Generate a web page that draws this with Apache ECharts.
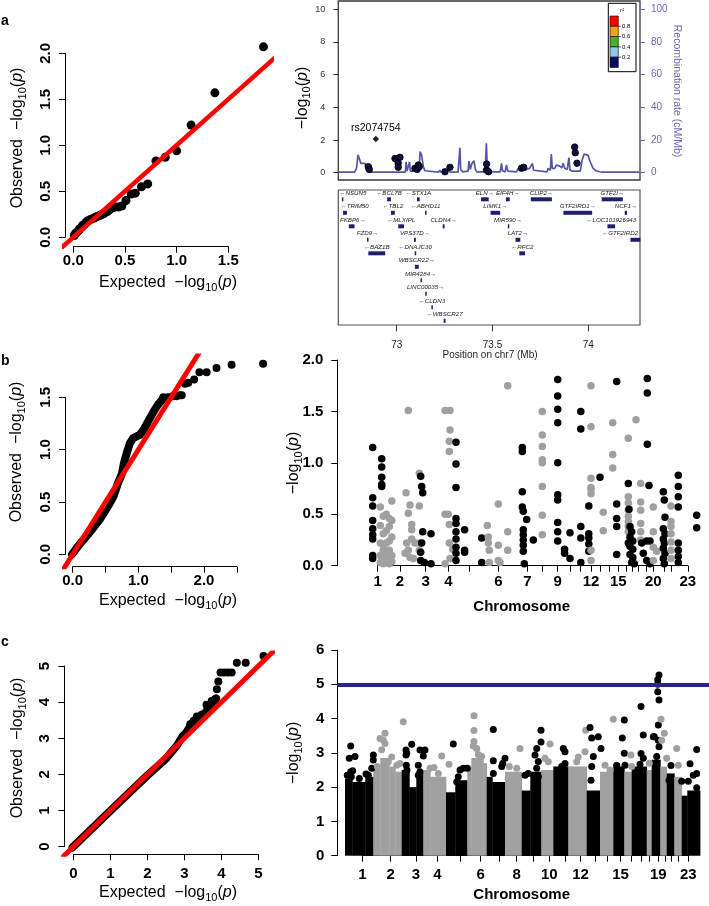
<!DOCTYPE html>
<html><head><meta charset="utf-8">
<script src="https://cdn.jsdelivr.net/npm/echarts@6/dist/echarts.min.js"></script>
<style>html,body{margin:0;padding:0;background:#fff}#c{width:709px;height:906px}</style>
</head><body><div id="c"></div>
<script>
// ---------------- DATA ----------------
// Panel a: QQ plot (expected vs observed -log10 p)
const aqqExp = [1.84,1.37,1.14,1.00,0.89,0.80,0.72,0.66,0.60,0.56,0.51,0.47,0.44,0.41,0.38,0.35,0.33,0.30,0.28,0.26,0.24,0.22,0.20,0.18,0.16,0.14,0.12,0.11,0.09,0.08,0.06,0.05,0.03,0.02,0.01];
const aqqObs = [2.07,1.57,1.22,0.94,0.87,0.83,0.58,0.55,0.48,0.47,0.40,0.34,0.33,0.33,0.32,0.30,0.28,0.26,0.25,0.24,0.23,0.22,0.21,0.20,0.19,0.18,0.16,0.14,0.13,0.11,0.09,0.07,0.05,0.04,0.02];
const identityLine = [[-1,-1],[6,6]];

// Panel a: regional plot chr7
const locusPos  = [72.852,72.857,72.991,72.998,73.017,73.008,73.008,73.095,73.107,73.113,73.118,73.252,73.278,73.469,73.469,73.479,73.651,73.663,73.929,73.932,73.941];
const locusLogP = [0.37,0.20,0.87,0.83,0.94,0.58,0.33,0.27,0.20,0.47,0.37,0.06,0.33,0.53,0.16,0.06,0.27,0.33,1.57,1.22,0.58];
const indexSnp = {name:'rs2074754', pos:72.891, logp:2.07};
const recomb = [[72.696,0.3],[72.780,0.3],[72.790,2.5],[72.798,11.0],[72.808,11.4],[72.813,5.7],[72.835,5.7],[72.842,1.6],[72.852,0.5],[72.862,0.3],
 [73.045,0.3],[73.049,6.7],[73.054,1.0],[73.063,1.0],[73.067,6.7],[73.071,1.0],[73.090,1.0],[73.097,2.7],[73.103,1.5],[73.117,1.5],[73.122,12.9],[73.130,10.8],[73.139,3.7],[73.147,1.2],[73.155,0.3],
 [73.218,0.3],[73.225,1.6],[73.232,0.3],[73.262,0.5],[73.269,2.6],[73.276,0.5],[73.305,0.3],[73.313,1.2],[73.320,0.3],[73.327,0.3],[73.330,15.3],[73.334,2.0],[73.345,0.5],[73.355,0.5],
 [73.372,1.0],[73.378,7.1],[73.384,2.0],[73.393,5.7],[73.403,7.3],[73.411,2.0],[73.418,0.5],
 [73.462,0.5],[73.468,18.0],[73.473,2.0],[73.480,0.5],
 [73.540,0.5],[73.547,5.7],[73.552,1.2],[73.566,0.5],[73.573,4.7],[73.580,1.0],[73.590,0.5],
 [73.625,0.5],[73.634,2.6],[73.650,3.7],[73.660,4.7],[73.668,1.6],[73.677,1.6],[73.694,2.7],[73.708,5.7],[73.715,1.5],[73.725,0.5],
 [73.785,0.5],[73.790,2.7],[73.802,1.5],[73.807,11.4],[73.812,2.7],[73.825,2.7],[73.833,4.7],[73.842,3.7],[73.850,4.0],[73.862,3.0],[73.868,5.7],[73.877,2.7],[73.890,2.0],[73.899,9.2],[73.904,1.6],[73.915,1.0],
 [73.958,1.0],[73.968,7.8],[73.978,11.4],[73.988,11.0],[73.998,10.8],[74.010,6.7],[74.025,2.6],[74.040,1.2],[74.060,0.6],[74.076,0.3],[74.267,0.3]];
const locusLeftTicks = [0,2,4,6,8,10];
const recombTicks = [0,20,40,60,80,100];
const positionTicks = [73,73.5,74];

// Panel a: genes
const geneName = ['NSUN5','BCL7B','STX1A','ELN','EIF4H','CLIP2','GTF2I','TRIM50','TBL2','ABHD11','LIMK1','GTF2IRD1','NCF1','FKBP6','MLXIPL','CLDN4','MIR590','LOC101926943','FZD9','VPS37D','LAT2','GTF2IRD2','BAZ1B','DNAJC30','RFC2','WBSCR22','MIR4284','LINC00035','CLDN3','WBSCR27'];
const geneStart = [72.714,72.950,73.106,73.440,73.570,73.700,74.070,72.720,72.970,73.148,73.490,73.870,74.190,72.750,73.008,73.240,73.580,74.100,72.845,73.090,73.620,74.220,72.852,73.094,73.640,73.095,73.124,73.149,73.181,73.245];
const geneEnd   = [72.720,72.970,73.120,73.480,73.590,73.810,74.180,72.740,72.990,73.152,73.540,74.020,74.202,72.780,73.038,73.250,73.582,74.140,72.850,73.100,73.645,74.272,72.940,73.098,73.670,73.115,73.126,73.153,73.186,73.255];
const geneRow   = [0,0,0,0,0,0,0,1,1,1,1,1,1,2,2,2,2,2,3,3,3,3,4,4,4,5,6,7,8,9];
const geneStrand= ['-','-','-','+','+','+','+','-','-','-','+','+','+','+','-','+','+','-','+','+','+','-','-','-','-','+','+','+','-','-'];
const r2Legend = [{c:'#ff0000'},{c:'#f7a11a'},{c:'#4fae2e'},{c:'#92c8e6'},{c:'#0b0b5e'}];
const r2Labels = ['0.8','0.6','0.4','0.2'];

// Panel b: QQ
const bqqDense = [[-0.01,0.0],[0.11,0.10],[0.26,0.21],[0.42,0.34],[0.52,0.44],[0.62,0.55],[0.69,0.68],[0.75,0.77],[0.78,0.87],[0.82,0.96],[0.87,1.06],[0.92,1.11],[1.02,1.14],[1.08,1.19],[1.15,1.27],[1.23,1.36],[1.30,1.43],[1.38,1.49]];
const bqqExp = [1.38,1.45,1.52,1.58,1.63,1.66,1.71,1.76,1.85,1.93,2.04,2.19,2.42,2.90];
const bqqObs = [1.50,1.50,1.51,1.51,1.52,1.52,1.63,1.64,1.67,1.74,1.74,1.78,1.81,1.82];

// Panel b: Manhattan (chromosome, cumulative position index, values)
const bColumns = [
 [1,35.4,[1.15,0.66,0.58,0.44,0.36,0.30,0.26,0.10,0.07]],[1,44.4,[1.04,0.96,0.86,0.79,0.77]],
 [2,43,[0.57,0.39,0.22,0.10,0.03]],[2,46,[0.48,0.31,0.20,0.15,0.07,0.02]],[2,49,[0.50,0.34,0.22,0.12,0.05]],[2,52,[0.46,0.38,0.24,0.15,0.06,0.02]],[2,54.5,[0.63,0.44,0.28,0.10,0.04]],
 [2,67.7,[0.12]],[2,68.7,[0.71]],[2,69.4,[0.22]],[2,71,[1.51,0.51,0.15]],[2,72.7,[0.59,0.08]],[2,74.4,[0.40,0.35,0.26]],[2,76,[0.07]],[2,77.7,[0.22]],[2,82,[0.90,0.58,0.22,0.15]],
 [3,83.4,[0.87,0.13,0.05]],[3,84.4,[0.77,0.22]],[3,85.4,[0.71,0.33]],[3,87,[0.03]],[3,93.7,[0.31,0.02]],
 [4,107.7,[1.51,0.50,0.02]],[4,111,[0.50]],[4,112,[1.21,1.11,0.40,0.22]],[4,112.7,[1.51,1.32,0.07]],[4,115.4,[0.16]],
 [5,118.7,[1.20,0.99,0.76,0.46,0.41,0.33,0.26,0.18,0.12,0.05]],[5,127.3,[0.35,0.15,0.13]],[5,144.4,[0.27,0.03]],
 [6,150,[0.39]],[6,151,[0.28,0.22]],[6,152,[0.15,0.03]],[6,161,[0.60,0.20,0.05]],[6,162.7,[0.03]],[6,170.4,[1.75,0.33,0.15]],
 [7,185,[1.15,1.11,0.72,0.57]],[7,186,[0.53,0.35,0.30,0.25,0.20,0.14]],[7,187,[0.02]],[7,189.4,[0.45]],[7,196,[0.25]],
 [8,205,[1.50,1.27,1.16,1.03,1.00,0.77,0.49,0.30]],
 [9,220.4,[1.81,1.65,1.52,1.39,1.00,0.69,0.64,0.42,0.33,0.24]],[9,227.3,[0.16,0.12]],[9,232.7,[0.32,0.07]],
 [11,243.5,[1.50,1.33,0.38,0.27,0.03]],[11,251.5,[0.58,0.31,0.27,0.21,0.14]],
 [12,253.7,[1.75,1.35,0.85,0.76,0.74,0.70,0.15,0.05]],
 [13,262.7,[0.86]],
 [14,266,[0.52,0.34]],[14,275.4,[1.39,1.08,0.95]],
 [15,279.4,[1.79,0.60,0.46,0.38,0.11]],
 [16,291,[1.24,0.67,0.61,0.54,0.48,0.43,0.38,0.33]],
 [17,291,[0.80,0.22]],[17,291.7,[0.55]],[17,292.7,[0.38,0.28,0.19,0.11]],[17,294.4,[0.33,0.03]],[17,295.5,[0.24,0.16,0.08]],[17,297,[0.02]],
 [18,298.7,[1.42]],[18,303.4,[0.80,0.62,0.54,0.41,0.33,0.25]],
 [19,304.4,[0.22]],[19,306,[0.12]],[19,309.4,[0.24,0.05]],[19,310,[1.82,1.68,1.18]],[19,311.7,[0.78]],[19,312.7,[0.24,0.02]],
 [20,316,[0.57,0.33,0.18,0.05]],[20,319.4,[0.14]],
 [21,326,[0.72,0.36,0.26,0.17,0.07]],[21,327,[0.64,0.22,0.02]],[21,327.7,[0.47,0.31,0.12]],
 [22,333.7,[0.58,0.43,0.38,0.31,0.23,0.15,0.07]],
 [23,341,[0.88,0.77,0.67,0.57,0.22,0.15,0.09,0.03]],[23,359.4,[0.49,0.37]]
];
const bChromTicks = [40.4,62.7,88.4,111,132,161,190,204.7,220.4,232.7,242.7,253.7,263,272,281,289,295,301,308.5,316,326.5,333.7,350.5];
const bLabelChroms = [1,2,3,4,6,7,9,12,15,20,23];
const posMax = 371.7;

// Panel c: QQ
const cqqDense = [[-0.02,-0.02],[1.0,0.99],[2.0,1.97],[2.5,2.43],[2.8,2.8],[2.95,3.05],[3.05,3.15],[3.2,3.4],[3.35,3.58],[3.5,3.64],[3.6,3.75],[3.7,3.92],[3.8,4.02],[3.86,4.1]];
const cqqExp = [3.16,3.25,3.34,3.47,3.60,3.74,3.83,3.88,3.92,3.98,4.08,4.18,4.28,4.42,4.66,5.14];
const cqqObs = [3.39,3.48,3.60,3.65,3.93,4.03,4.08,4.36,4.57,4.82,4.82,4.82,4.82,5.09,5.09,5.28];

// Panel c: Manhattan, dense bulk per chromosome [chr, start, end, top]
const cBulk = [
 [1,7.7,15,2.25],[1,15,28,2.15],[1,28,36,2.3],
 [2,36,43,2.55],[2,43,52,2.85],[2,52,58,2.6],[2,58,64.4,2.45],
 [3,64.4,72,2.5],[3,72,79,2.0],[3,79,86,2.45],
 [4,86,93,2.5],[4,93,108.7,2.3],
 [5,108.7,118,1.85],[5,118,130,2.2],
 [6,130,134,2.6],[6,134,146,2.85],[6,146,149.4,2.7],
 [7,149.4,155,2.3],[7,155,167.7,2.15],
 [8,167.7,184.4,2.45],
 [9,184.4,193,1.9],[9,193,204,2.45],
 [10,204,216,2.5],[11,216,231,2.6],[12,231,249.4,2.6],[13,249.4,262.7,1.9],[14,262.7,276,2.45],
 [15,276,287,2.6],[16,287,294.4,2.45],[17,294.4,309.4,2.6],[18,309.4,314.4,2.5],[19,314.4,323,2.8],
 [20,323,329.4,2.6],[21,329.4,337,2.4],[22,337,344.4,2.3],[23,344.4,350,1.75],[23,350,362.7,1.9]
];
const cPoints = [
 [1,13.4,3.20],[1,12,2.84],[1,17.7,2.89],[1,15.4,2.48],[1,28.7,2.38],[1,36,2.94],[1,36,2.79],[1,34.4,2.55],[1,13.4,2.45],[1,14,2.3],[1,10,2.35],[1,22,2.25],[1,31,2.35],
 [2,42.7,3.42],[2,47.7,3.57],[2,47.7,3.27],[2,46,3.37],[2,54.4,2.88],[2,66,3.91],[2,59.4,2.64],[2,62.7,2.69],[2,44.4,3.09],[2,51,2.74],[2,40,2.6],
 [3,68.7,3.08],[3,69.4,2.99],[3,74.4,3.25],[3,82.7,3.08],[3,87.7,3.08],[3,86,2.91],[3,81,2.64],[3,82.7,2.45],[3,81,2.35],[3,69,2.64],[3,69.7,2.5],[3,68.7,2.94],
 [4,104.4,2.91],[4,96.7,2.57],[4,111.7,2.67],[4,92.7,2.55],[4,101,2.4],
 [5,116,3.26],[5,122.7,2.5],[5,126,2.55],[5,121,2.3],[5,119.4,2.16],[5,130,2.55],
 [6,136.7,4.08],[6,136.7,3.65],[6,136.7,3.33],[6,139.4,3.13],[6,144.4,2.89],[6,136,3.2],[6,141,2.95],
 [7,156,3.68],[7,156,2.77],[7,156,2.4],[7,167.7,2.84],[7,165.4,2.69],[7,164.4,2.6],
 [8,182.7,3.13],[8,179.4,2.55],[8,172,2.6],
 [9,203.7,3.66],[9,203.7,3.32],[9,199.4,3.13],[9,197.7,2.94],[9,201,2.75],[9,199.4,2.55],[9,201,2.3],[9,191,2.4],[9,187.7,2.35],[9,199.4,2.0],
 [10,212.7,3.26],[10,211,2.74],[10,207.7,2.84],
 [11,226,3.13],[11,227.7,3.03],[11,227.7,2.69],[11,224.4,2.6],
 [12,241,2.88],[12,247.7,3.03],[12,248.4,3.66],[12,239.4,2.74],
 [13,252.7,3.74],[13,254.4,3.43],[13,261,3.47],[13,256,2.89],[13,263.7,3.13],[13,254.4,2.6],[13,253.7,2.2],
 [14,267.7,2.64],[14,276,3.98],[14,272.7,2.5],
 [15,287,3.96],[15,285,3.43],[15,287,2.99],[15,287.7,2.64],[15,279.4,2.64],
 [16,293.7,2.94],[16,294.4,2.6],
 [17,303.7,4.35],[17,306,3.52],[17,303.7,2.98],[17,306,2.84],[17,302.7,2.67],
 [18,312,2.7],
 [19,321.7,5.27],[19,320.4,5.13],[19,320.4,5.0],[19,320.4,4.78],[19,321.7,4.54],[19,321,3.81],[19,317,3.47],[19,321,3.37],[19,321.7,3.18],[19,319.4,2.89],[19,316,3.47],
 [20,323.7,3.98],[20,327,3.57],[20,329.4,2.84],[20,324.4,3.37],
 [21,333.7,2.63],[21,331.7,2.2],
 [22,339.4,3.13],[22,341,2.64],
 [23,359.4,3.1],[23,352.7,2.68],[23,359.4,2.4],[23,356,2.35],[23,351,2.17],[23,344.4,2.17],[23,359.4,1.98]
];
const cChromTicks = [25,53.4,78.7,100,122.7,143.4,162,179.4,195.7,212,227.7,243.2,257.7,269.7,283.2,293.5,303.5,311.7,321,328,333.9,340.5,351];
const cLabelChroms = [1,2,3,4,6,8,10,12,15,19,23];
const cThreshold = 5;

// ---------------- LAYOUT HELPERS ----------------
const FONT = '"Liberation Sans", Arial, Helvetica, sans-serif';
const W = 709;
const grid = [], xAxis = [], yAxis = [], series = [], graphic = [];
function mapRange(p0, v0, p1, v1, pa, pb) {
  const s = (p1 - p0) / (v1 - v0);
  const a = v0 + (pa - p0) / s, b = v0 + (pb - p0) / s;
  return [Math.min(a, b), Math.max(a, b)];
}
function addGrid(x0, x1, y0, y1, extra) {
  grid.push(Object.assign({left: x0, top: y0, width: x1 - x0, height: y1 - y0}, extra || {}));
  return grid.length - 1;
}
function hiddenAxis(list, g, range, extra) {
  list.push(Object.assign({type:'value', gridIndex:g, min: range ? range[0] : 0, max: range ? range[1] : 1, show:false}, extra || {}));
  return list.length - 1;
}
function shownAxis(list, g, cfg) {
  const col = cfg.color || '#000';
  const o = {
    type:'value', gridIndex:g, min:cfg.min, max:cfg.max, position:cfg.position,
    axisLine:{show: cfg.line !== false, onZero:false, lineStyle:{color:col, width:1}},
    axisTick:{show:true, length: cfg.tickLen || 6, lineStyle:{color:col, width:1}},
    axisLabel:{show:true, margin:cfg.margin, rotate:cfg.rotate || 0, color: cfg.labelColor || '#000',
      fontFamily:FONT, fontWeight: cfg.bold === false ? 'normal' : 'bold', fontSize: cfg.fontSize || 15},
    splitLine:{show:false}
  };
  if (cfg.formatter) o.axisLabel.formatter = cfg.formatter;
  if (cfg.interval != null) o.interval = cfg.interval;
  if (cfg.ticks) { o.axisTick.customValues = cfg.ticks; o.axisLabel.customValues = cfg.labels || cfg.ticks; }
  list.push(o);
  return list.length - 1;
}
const fmt1 = v => v.toFixed(1);

function qqPanel(m) {
  const b = m.box;
  const g = addGrid(b[0], b[1], b[2], b[3]);
  const xi = hiddenAxis(xAxis, g, mapRange(m.x0px, 0, m.x1px, m.x1v, b[0], b[1]));
  const yi = hiddenAxis(yAxis, g, mapRange(m.y0px, 0, m.y1px, m.y1v, b[3], b[2]));
  const gx = addGrid(m.x0px, m.x0px + (m.x1px - m.x0px) * m.xMax / m.x1v, m.y1px, b[3]);
  shownAxis(xAxis, gx, {min:0, max:m.xMax, interval:m.xInt, position:'bottom', margin:m.xMargin, formatter:m.xFmt});
  hiddenAxis(yAxis, gx);
  const gy = addGrid(b[0], b[1], m.y0px - (m.y0px - m.y1px) * m.yMax / m.y1v, m.y0px);
  hiddenAxis(xAxis, gy);
  shownAxis(yAxis, gy, {min:0, max:m.yMax, interval:m.yInt, position:'left', margin:m.yMargin, rotate:90, formatter:m.yFmt});
  return {xi, yi};
}
function nearestIdx(arr, v) {
  let bi = 0; arr.forEach((t, i) => { if (Math.abs(t - v) < Math.abs(arr[bi] - v)) bi = i; }); return bi;
}
function manhattanPanel(m) {
  const g = addGrid(m.axisX, W, m.yTop, m.yBottom);
  const xi = hiddenAxis(xAxis, g, [0, posMax]);
  const yi = shownAxis(yAxis, g, {min:0, max:m.yMax, interval:m.yInt, position:'left', margin:m.yMargin, formatter:m.yFmt});
  const sc = (W - m.axisX) / posMax;
  const t0 = m.ticks[0], t1 = m.ticks[m.ticks.length - 1];
  const gx = addGrid(m.axisX + t0 * sc, m.axisX + t1 * sc, m.yTop, m.yBottom);
  shownAxis(xAxis, gx, {min:t0, max:t1, position:'bottom', margin:m.xMargin, ticks:m.ticks,
    labels: m.labelChroms.map(c => m.ticks[c - 1]), formatter: v => String(nearestIdx(m.ticks, v) + 1)});
  hiddenAxis(yAxis, gx);
  return {xi, yi};
}
const chrColor = c => (c % 2 ? '#000000' : '#a0a0a0');

// text helpers
function logRich(size, fill) {
  return {
    n:{fontFamily:FONT, fontSize:size, fill:fill},
    s:{fontFamily:FONT, fontSize:Math.round(size * 0.7), fill:fill, padding:[Math.round(size * 0.55),0,0,0]},
    i:{fontFamily:FONT, fontSize:size, fontStyle:'italic', fill:fill}
  };
}
const LOGP = pre => `{n|${pre}\u2212log}{s|10}{n|(}{i|p}{n|)}`;
function gtext(x, y, text, o) {
  o = o || {};
  const st = {text, align:o.align || 'center', verticalAlign:'middle', fill:o.fill || '#000', fontFamily:FONT,
    fontSize:o.size || 16, fontWeight:o.weight || 'normal', fontStyle:o.style || 'normal'};
  if (o.rich) st.rich = o.rich;
  graphic.push({type:'text', x, y, rotation:o.rot || 0, silent:true, z:100, style:st});
}
const dot = (size, color, extra) => Object.assign({symbolSize:size, itemStyle:{color:color, opacity:1}, clip:false, silent:true}, extra || {});

// ---------------- PANEL a : QQ ----------------
const aq = qqPanel({x0px:73.3, x1px:228.3, x1v:1.5, y0px:237.3, y1px:53.3, y1v:2.0, box:[65,271,39,246.7],
  xMax:1.5, xInt:0.5, yMax:2.0, yInt:0.5, xFmt:fmt1, yFmt:fmt1, xMargin:7, yMargin:12});
series.push(Object.assign({type:'scatter', xAxisIndex:aq.xi, yAxisIndex:aq.yi, data:aqqExp.map((x,i)=>[x,aqqObs[i]]), z:2}, dot(9,'#000')));
series.push({type:'line', xAxisIndex:aq.xi, yAxisIndex:aq.yi, data:identityLine, symbol:'none',
  lineStyle:{color:'#ff0000', width:4.5}, silent:true, z:3});

// ---------------- PANEL a : regional plot ----------------
const locBox = [338.3, 640, 1, 180];
const gL = addGrid(locBox[0], locBox[1], locBox[2], locBox[3], {show:true, borderColor:'#3a3a3a', borderWidth:1.3});
const lx = hiddenAxis(xAxis, gL, mapRange(396.7, 73, 588.3, 74, locBox[0], locBox[1]));
const lyr = mapRange(172.7, 0, 9.3, 10, locBox[3], locBox[2]);
const ly = shownAxis(yAxis, gL, {min:lyr[0], max:lyr[1], position:'left', line:false, tickLen:5, margin:13,
  ticks:locusLeftTicks, bold:false, fontSize:9, color:'#333', labelColor:'#333', formatter:v=>String(Math.round(v))});
const rr = mapRange(172.7, 0, 9.3, 100, locBox[3], locBox[2]);
const ry = shownAxis(yAxis, gL, {min:rr[0], max:rr[1], position:'right', line:false, tickLen:5, margin:11,
  ticks:recombTicks, bold:false, fontSize:10, color:'#6a6ab3', labelColor:'#6a6ab3', formatter:v=>String(Math.round(v))});
series.push({type:'line', xAxisIndex:lx, yAxisIndex:ry, data:recomb, symbol:'none',
  lineStyle:{color:'#5656a6', width:1.7}, silent:true, z:2});
series.push({type:'scatter', xAxisIndex:lx, yAxisIndex:ly, data:locusPos.map((p,i)=>[p,locusLogP[i]]),
  symbolSize:6.5, itemStyle:{color:'#0e0e40', borderColor:'#000', borderWidth:0.8, opacity:1}, clip:false, silent:true, z:3});
series.push({type:'scatter', xAxisIndex:lx, yAxisIndex:ly, data:[[indexSnp.pos, indexSnp.logp]],
  symbol:'diamond', symbolSize:6.5, itemStyle:{color:'#222', opacity:1}, clip:false, silent:true, z:4,
  label:{show:true, position:'top', distance:2, formatter:indexSnp.name, fontFamily:FONT, fontSize:10.5, color:'#000'}});

// gene track
const geneBox = [338.3, 640, 190, 325];
const gG = addGrid(geneBox[0], geneBox[1], geneBox[2], geneBox[3], {show:true, borderColor:'#555', borderWidth:1.2});
const geneRange = mapRange(396.7, 73, 588.3, 74, geneBox[0], geneBox[1]);
const gx = shownAxis(xAxis, gG, {min:geneRange[0], max:geneRange[1],
  position:'bottom', line:false, tickLen:6.5, margin:15, ticks:positionTicks, bold:false, fontSize:10, color:'#333', labelColor:'#222',
  formatter:v=>String(v)});
const gy = hiddenAxis(yAxis, gG, [-0.69, 9.31], {inverse:true});
series.push({type:'custom', xAxisIndex:gx, yAxisIndex:gy, silent:true, z:3,
  data: geneStart.map((s,i)=>[s, geneEnd[i], geneRow[i]]), encode:{x:[0,1], y:2},
  renderItem: (params, api) => {
    const i = params.dataIndex;
    const p0 = api.coord([api.value(0), api.value(2)]);
    const p1 = api.coord([api.value(1), api.value(2)]);
    const cs = params.coordSys;
    const txt = geneStrand[i] === '+' ? geneName[i] + '\u2192' : '\u2190' + geneName[i];
    const tw = geneName[i].length * 3.6 + 7;
    let cx = (p0[0] + p1[0]) / 2;
    cx = Math.min(Math.max(cx, cs.x + tw / 2 + 2), cs.x + cs.width - tw / 2 - 2);
    return {type:'group', children:[
      {type:'rect', shape:{x:p0[0], y:p0[1]-2, width:Math.max(p1[0]-p0[0], 1.5), height:4}, style:{fill:'#1e1e70'}},
      {type:'text', style:{text:txt, x:cx, y:p0[1]-6.5, align:'center', verticalAlign:'middle',
        fontFamily:FONT, fontSize:6.2, fontStyle:'italic', fill:'#1a1a1a'}}
    ]};
  }});

// r2 legend
graphic.push({type:'rect', silent:true, z:50, shape:{x:608.3, y:3.3, width:27.7, height:68.4}, style:{fill:'#fff', stroke:'#000', lineWidth:1}});
r2Legend.forEach((d, k) => {
  graphic.push({type:'rect', silent:true, z:51, shape:{x:610, y:16 + k*10.3, width:8.3, height:10.3}, style:{fill:d.c, stroke:'#000', lineWidth:0.6}});
});
r2Labels.forEach((t, k) => {
  const yy = 26.3 + k*10.3;
  graphic.push({type:'line', silent:true, z:51, shape:{x1:618.3, y1:yy, x2:621, y2:yy}, style:{stroke:'#000', lineWidth:0.6}});
  gtext(622, yy, t, {size:6, align:'left'});
});
gtext(622, 10, 'r\u00b2', {size:6, style:'italic'});

// ---------------- PANEL b ----------------
const bq = qqPanel({x0px:72.7, x1px:204, x1v:2.0, y0px:554.3, y1px:397.3, y1v:1.5, box:[65,270,356,566.7],
  xMax:2.5, xInt:0.5, yMax:1.5, yInt:0.5,
  xFmt:v => (Math.round(v*2) % 2 === 0 ? v.toFixed(1) : ''), yFmt:fmt1, xMargin:7, yMargin:12});
series.push({type:'line', xAxisIndex:bq.xi, yAxisIndex:bq.yi, data:bqqDense, symbol:'none',
  lineStyle:{color:'#000', width:8, cap:'round', join:'round'}, silent:true, z:2});
series.push(Object.assign({type:'scatter', xAxisIndex:bq.xi, yAxisIndex:bq.yi, data:bqqExp.map((x,i)=>[x,bqqObs[i]]), z:2}, dot(8,'#000')));
series.push({type:'line', xAxisIndex:bq.xi, yAxisIndex:bq.yi, data:identityLine, symbol:'none',
  lineStyle:{color:'#ff0000', width:5}, silent:true, z:3});

const bm = manhattanPanel({axisX:337.3, yTop:360, yBottom:565.7, yMax:2, yInt:0.5, yFmt:fmt1, yMargin:14,
  ticks:bChromTicks, labelChroms:bLabelChroms, xMargin:9});
const bPoints = [];
bColumns.forEach(([c, p, vals]) => vals.forEach(v => bPoints.push([c, p, v])));
series.push({type:'scatter', xAxisIndex:bm.xi, yAxisIndex:bm.yi, data:bPoints, encode:{x:1, y:2},
  symbolSize:7.5, itemStyle:{color:p => chrColor(p.data[0]), opacity:1}, clip:false, silent:true, z:2});

// ---------------- PANEL c ----------------
const cq = qqPanel({x0px:73.3, x1px:258.3, x1v:5, y0px:846.7, y1px:666, y1v:5, box:[64.3,271.5,653,854.3],
  xMax:5, xInt:1, yMax:5, yInt:1, xFmt:v=>String(v), yFmt:v=>String(v), xMargin:12, yMargin:12});
series.push({type:'line', xAxisIndex:cq.xi, yAxisIndex:cq.yi, data:cqqDense, symbol:'none',
  lineStyle:{color:'#000', width:8, cap:'round', join:'round'}, silent:true, z:2});
series.push(Object.assign({type:'scatter', xAxisIndex:cq.xi, yAxisIndex:cq.yi, data:cqqExp.map((x,i)=>[x,cqqObs[i]]), z:2}, dot(8,'#000')));
series.push({type:'line', xAxisIndex:cq.xi, yAxisIndex:cq.yi, data:identityLine, symbol:'none',
  lineStyle:{color:'#ff0000', width:5}, silent:true, z:3});

const cm = manhattanPanel({axisX:337.3, yTop:650, yBottom:855.7, yMax:6, yInt:1, yFmt:v=>String(v), yMargin:13,
  ticks:cChromTicks, labelChroms:cLabelChroms, xMargin:12});
series.push({type:'custom', xAxisIndex:cm.xi, yAxisIndex:cm.yi, data:cBulk, encode:{x:[1,2], y:3}, silent:true, z:2,
  renderItem:(params, api) => {
    const a = api.coord([api.value(1), api.value(3)]);
    const b = api.coord([api.value(2), 0]);
    return {type:'rect', shape:{x:a[0], y:a[1], width:b[0]-a[0]+0.4, height:b[1]-a[1]},
      style:{fill:chrColor(api.value(0))}};
  }});
series.push({type:'scatter', xAxisIndex:cm.xi, yAxisIndex:cm.yi, data:cPoints, encode:{x:1, y:2},
  symbolSize:7, itemStyle:{color:p => chrColor(p.data[0]), opacity:1}, clip:false, silent:true, z:3,
  markLine:{silent:true, symbol:['none','none'], label:{show:false}, animation:false,
    lineStyle:{color:'#27278a', width:4, type:'solid', opacity:1}, data:[{yAxis:cThreshold}]}});

// ---------------- TITLES ----------------
const R16 = logRich(16, '#000');
gtext(168, 283, LOGP('Expected  '), {rich:R16});
gtext(18, 138, LOGP('Observed  '), {rich:R16, rot:Math.PI/2});
gtext(168, 601, LOGP('Expected  '), {rich:R16});
gtext(17, 452, LOGP('Observed  '), {rich:R16, rot:Math.PI/2});
gtext(168, 893, LOGP('Expected  '), {rich:R16});
gtext(18, 748, LOGP('Observed  '), {rich:R16, rot:Math.PI/2});
gtext(302.5, 98, LOGP(''), {rich:R16, rot:Math.PI/2});
gtext(294, 463, LOGP(''), {rich:R16, rot:Math.PI/2});
gtext(294, 753, LOGP(''), {rich:R16, rot:Math.PI/2});
gtext(677, 91, 'Recombination rate (cM/Mb)', {size:10.5, fill:'#6a6ab3', rot:-Math.PI/2});
gtext(490, 355, 'Position on chr7 (Mb)', {size:10, fill:'#222'});
gtext(521.7, 607, 'Chromosome', {size:15, weight:'bold'});
gtext(521.7, 895, 'Chromosome', {size:15, weight:'bold'});
gtext(1, 21, 'a', {size:14, weight:'bold', align:'left'});
gtext(1, 361, 'b', {size:14, weight:'bold', align:'left'});
gtext(1, 642, 'c', {size:14, weight:'bold', align:'left'});

const chart = echarts.init(document.getElementById('c'), null, {renderer:'canvas'});
chart.setOption({animation:false, backgroundColor:'#fff', grid, xAxis, yAxis, series, graphic});
</script></body></html>
